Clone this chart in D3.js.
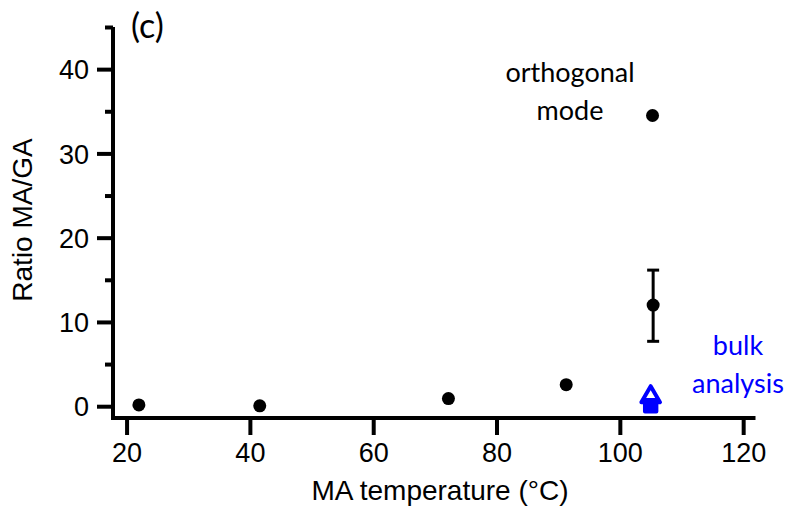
<!DOCTYPE html>
<html>
<head>
<meta charset="utf-8">
<script src="https://cdn.jsdelivr.net/npm/d3@7"></script>
<style>
  body { margin: 0; background: #fff; }
  svg text { fill: #000; }
</style>
</head>
<body>
<div id="chart"></div>
<script>
// MA temperature (°C) and ratio MA/GA, orthogonal mode
const temps = [22, 41.6, 72.2, 91.3, 105.3, 105.4];
const ratios = [0.15, 0.05, 0.9, 2.55, 34.5, 12.0];
// error bar (only on the 12.0 point)
const errLow = [null, null, null, null, null, 7.7];
const errHigh = [null, null, null, null, null, 16.15];

// bulk analysis markers
const bulkTemp = [105.0, 105.0];
const bulkRatio = [1.1, 0.05];
const bulkShape = ["triangle", "square"];

const xTicks = [20, 40, 60, 80, 100, 120];
const yTicks = [0, 10, 20, 30, 40];
const yMinor = [5, 15, 25, 35, 45];

const width = 790, height = 514;
const blue = "#0000ff";
const lw = 4; // axis line width

const x = d3.scaleLinear().domain([17.8, 122]).range([113, 755.5]);
const y = d3.scaleLinear().domain([-1.4, 45]).range([418, 27]);

const svg = d3.select("#chart").append("svg")
  .attr("width", width)
  .attr("height", height);

const axisFont = "'Liberation Sans', Arial, sans-serif";
const noteFont = "Lato, 'Open Sans', sans-serif";

const x0 = x.range()[0], y0 = y.range()[0];

// X axis ticks and labels
const xAxis = svg.append("g")
  .attr("transform", `translate(0, ${y0})`)
  .call(d3.axisBottom(x).tickValues(xTicks).tickSize(17).tickPadding(8).tickSizeOuter(0));
xAxis.select(".domain").remove();
xAxis.selectAll(".tick line").attr("stroke", "#000").attr("stroke-width", lw);
xAxis.selectAll(".tick text")
  .attr("font-family", axisFont)
  .attr("font-size", "27px");

// Y axis ticks and labels
const yAxis = svg.append("g")
  .attr("transform", `translate(${x0}, 0)`)
  .call(d3.axisLeft(y).tickValues(yTicks).tickSize(16).tickPadding(8).tickSizeOuter(0));
yAxis.select(".domain").remove();
yAxis.selectAll(".tick line").attr("stroke", "#000").attr("stroke-width", lw);
yAxis.selectAll(".tick text")
  .attr("font-family", axisFont)
  .attr("font-size", "27px")
  .attr("dy", "0.36em");

// Y axis minor ticks
svg.append("g")
  .attr("transform", `translate(${x0}, 0)`)
  .call(d3.axisLeft(y).tickValues(yMinor).tickSize(8).tickFormat(""))
  .call(g => g.select(".domain").remove())
  .selectAll("line").attr("stroke", "#000").attr("stroke-width", lw);

// Axis lines
svg.append("line")
  .attr("x1", x0 - lw / 2).attr("x2", x.range()[1])
  .attr("y1", y0).attr("y2", y0)
  .attr("stroke", "#000").attr("stroke-width", lw);
svg.append("line")
  .attr("x1", x0).attr("x2", x0)
  .attr("y1", y0).attr("y2", y.range()[1])
  .attr("stroke", "#000").attr("stroke-width", lw);

// Axis titles
svg.append("text")
  .attr("x", 440)
  .attr("y", 500)
  .attr("text-anchor", "middle")
  .attr("font-family", axisFont)
  .attr("font-size", "28px")
  .text("MA temperature (°C)");

svg.append("text")
  .attr("transform", "translate(32, 220) rotate(-90)")
  .attr("text-anchor", "middle")
  .attr("font-family", axisFont)
  .attr("font-size", "28px")
  .text("Ratio MA/GA");

// Panel label and annotations
svg.append("text")
  .attr("x", 131)
  .attr("y", 38)
  .attr("font-family", noteFont)
  .attr("font-size", "34px")
  .text("(c)");

svg.append("text")
  .attr("x", 570)
  .attr("y", 82)
  .attr("text-anchor", "middle")
  .attr("font-family", noteFont)
  .attr("font-size", "27px")
  .text("orthogonal");

svg.append("text")
  .attr("x", 570)
  .attr("y", 120)
  .attr("text-anchor", "middle")
  .attr("font-family", noteFont)
  .attr("font-size", "27px")
  .text("mode");

svg.append("text")
  .attr("x", 738)
  .attr("y", 355)
  .attr("text-anchor", "middle")
  .attr("font-family", noteFont)
  .attr("font-size", "27px")
  .style("fill", blue)
  .text("bulk");

svg.append("text")
  .attr("x", 738)
  .attr("y", 393)
  .attr("text-anchor", "middle")
  .attr("font-family", noteFont)
  .attr("font-size", "27px")
  .style("fill", blue)
  .text("analysis");

// Error bars
const pts = temps.map((t, i) => ({ t, r: ratios[i], lo: errLow[i], hi: errHigh[i] }));
const errs = svg.append("g").selectAll("g")
  .data(pts.filter(d => d.lo !== null))
  .join("g")
  .attr("stroke", "#000")
  .attr("stroke-width", 3);
errs.append("line")
  .attr("x1", d => x(d.t)).attr("x2", d => x(d.t))
  .attr("y1", d => y(d.lo)).attr("y2", d => y(d.hi));
errs.append("line")
  .attr("x1", d => x(d.t) - 6).attr("x2", d => x(d.t) + 6)
  .attr("y1", d => y(d.lo)).attr("y2", d => y(d.lo));
errs.append("line")
  .attr("x1", d => x(d.t) - 6).attr("x2", d => x(d.t) + 6)
  .attr("y1", d => y(d.hi)).attr("y2", d => y(d.hi));

// Points
svg.append("g").selectAll("circle")
  .data(pts)
  .join("circle")
  .attr("cx", d => x(d.t))
  .attr("cy", d => y(d.r))
  .attr("r", 6.5)
  .attr("fill", "#000");

// Bulk analysis markers
const bulk = bulkTemp.map((t, i) => ({ t, r: bulkRatio[i], shape: bulkShape[i] }));
svg.append("g").selectAll("path")
  .data(bulk)
  .join("path")
  .attr("transform", d => `translate(${x(d.t)}, ${y(d.r)})`)
  .attr("d", d => d.shape === "triangle"
    ? d3.symbol(d3.symbolTriangle, 150)()
    : d3.symbol(d3.symbolSquare, 130)())
  .attr("fill", d => d.shape === "triangle" ? "#fff" : blue)
  .attr("stroke", blue)
  .attr("stroke-width", 4)
  .attr("stroke-linejoin", "round");
</script>
</body>
</html>
